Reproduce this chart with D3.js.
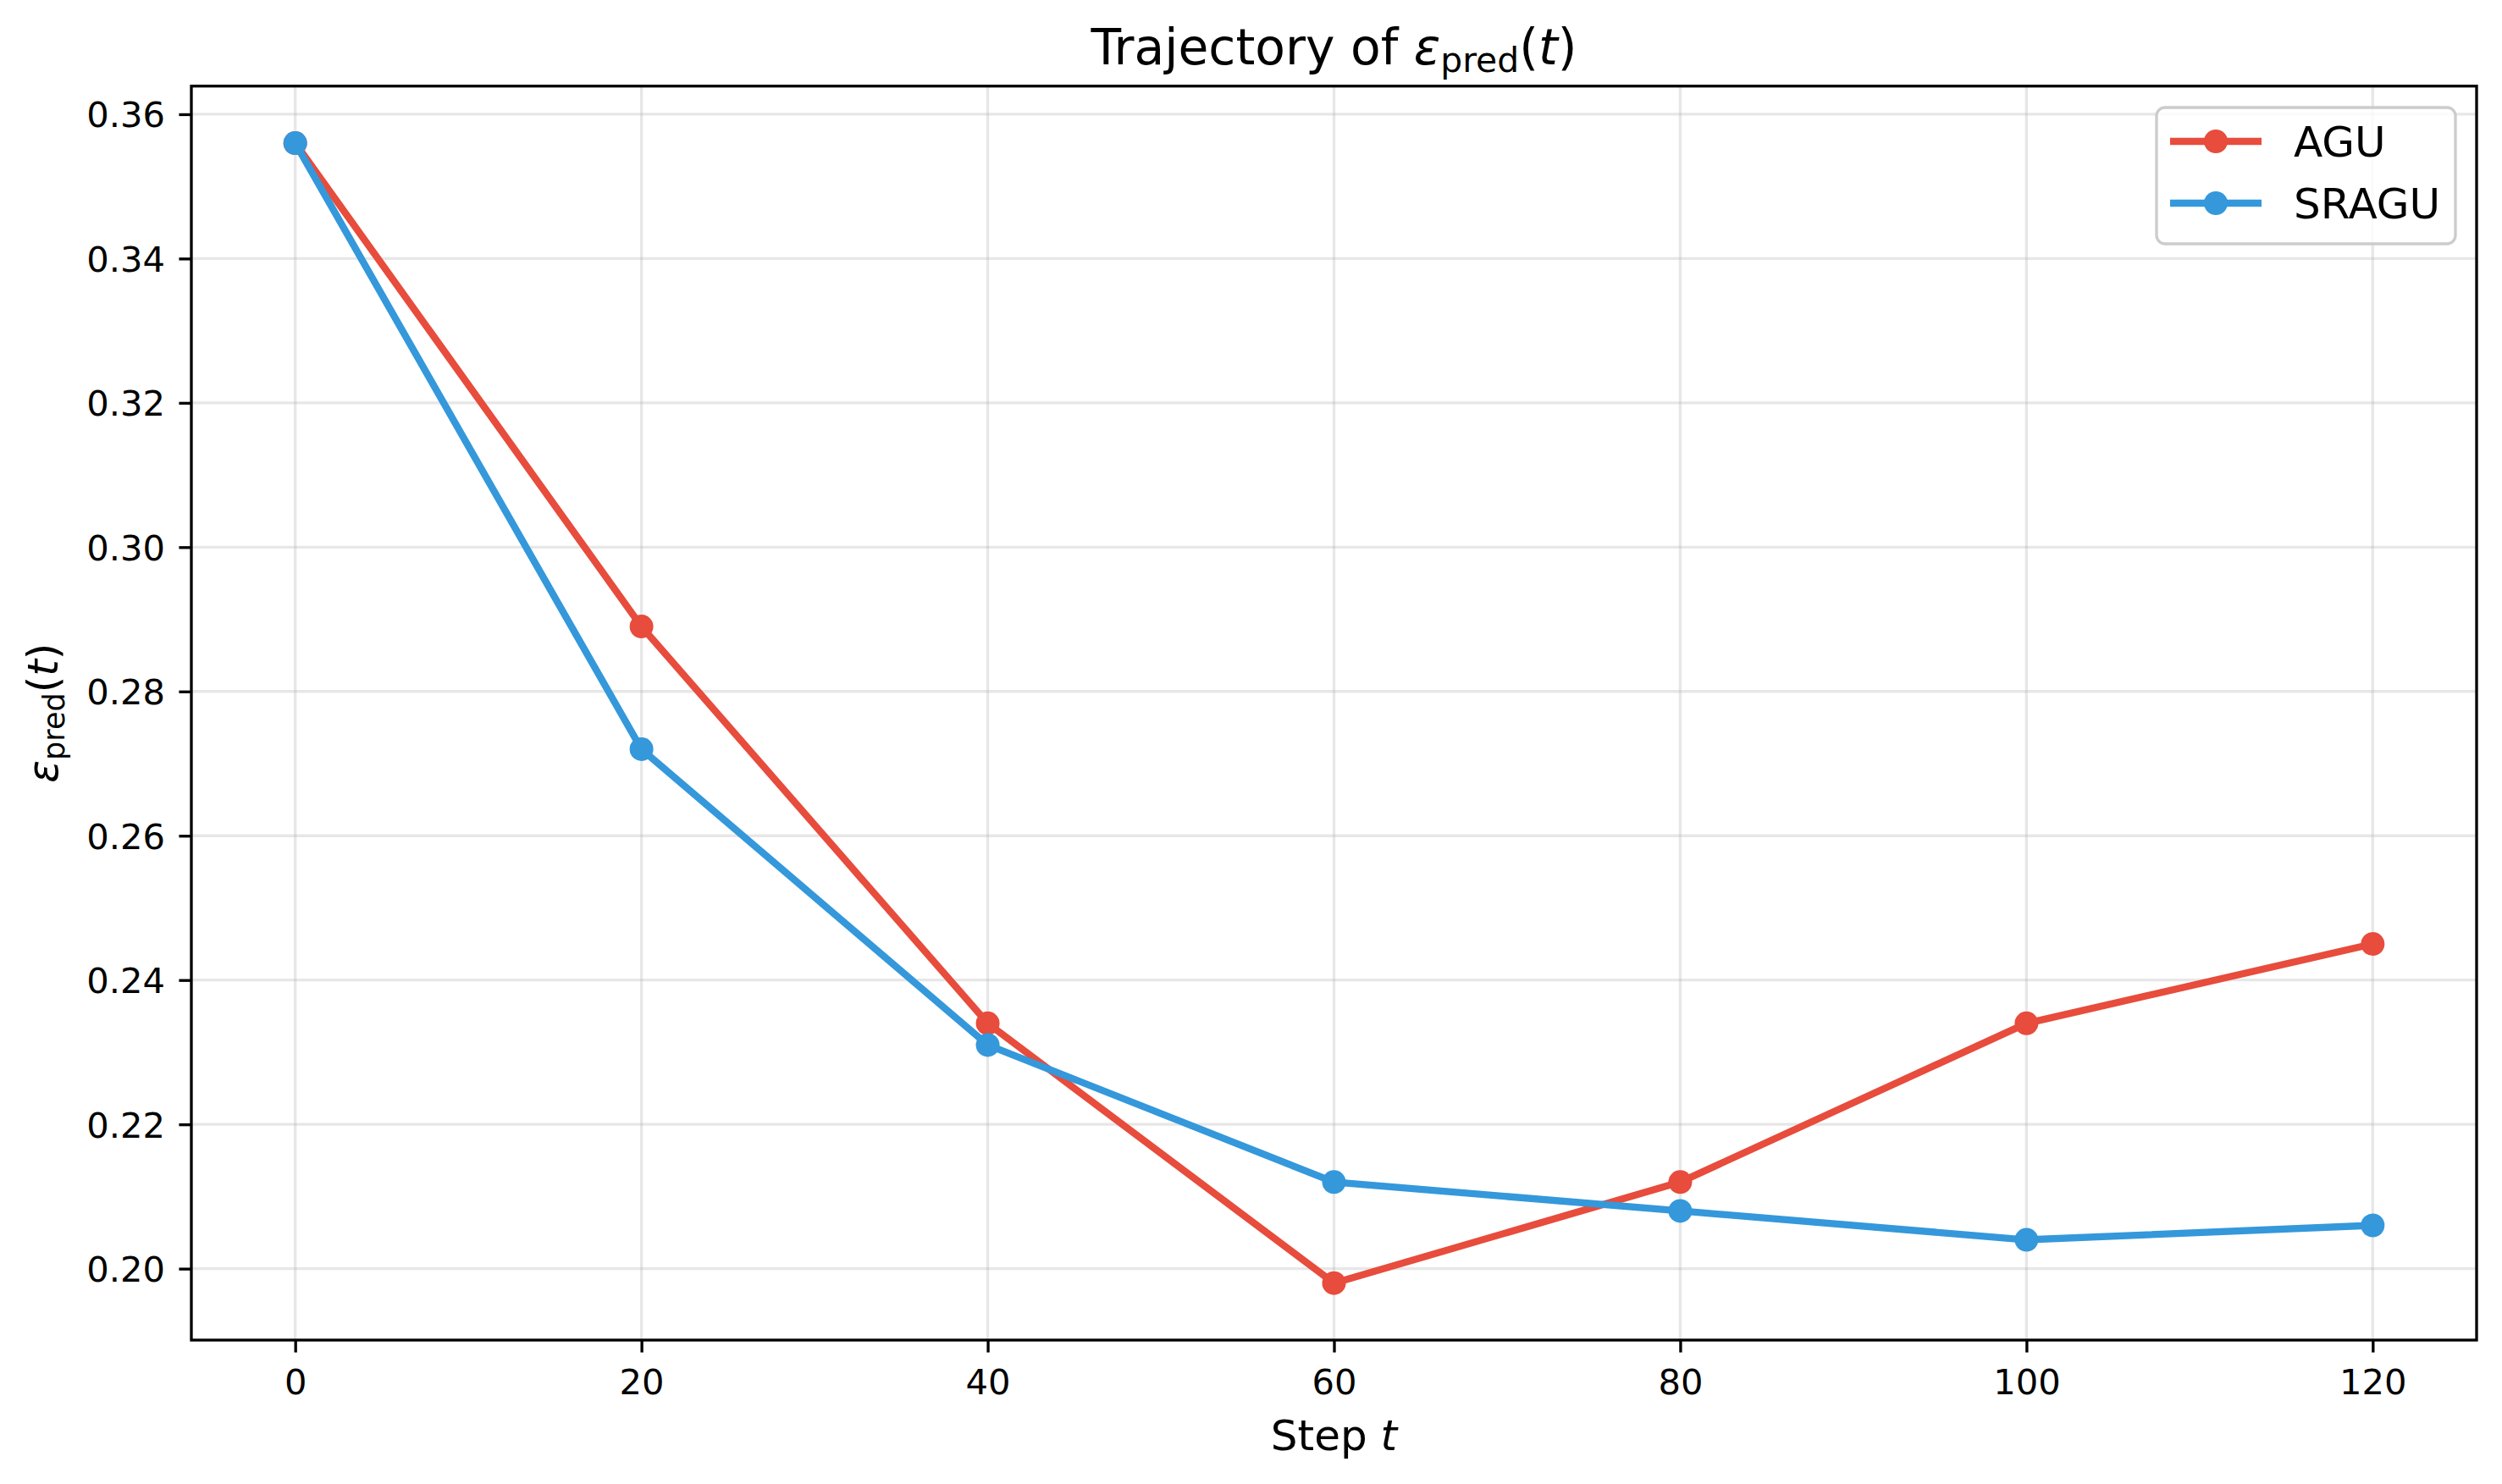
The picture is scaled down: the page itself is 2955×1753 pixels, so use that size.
<!DOCTYPE html>
<html>
<head>
<meta charset="utf-8">
<script src="https://cdn.jsdelivr.net/npm/d3@7"></script>
<style>
html, body { margin: 0; padding: 0; background: #ffffff; }
svg { display: block; font-family: "DejaVu Sans", sans-serif; }
</style>
</head>
<body>
<svg id="chart" width="2955" height="1753"></svg>
<script>
// ---- data ----
const steps = [0, 20, 40, 60, 80, 100, 120];
const aguValues = [0.356, 0.289, 0.234, 0.198, 0.212, 0.234, 0.245];
const sraguValues = [0.356, 0.272, 0.231, 0.212, 0.208, 0.204, 0.206];
const seriesNames = ["AGU", "SRAGU"];
const seriesColors = ["#e74c3c", "#3498db"];
const xTicks = [0, 20, 40, 60, 80, 100, 120];
const yTicks = [0.20, 0.22, 0.24, 0.26, 0.28, 0.30, 0.32, 0.34, 0.36];

const series = [
  { name: seriesNames[0], color: seriesColors[0], values: aguValues },
  { name: seriesNames[1], color: seriesColors[1], values: sraguValues }
];

// ---- layout ----
const W = 2955, H = 1753;
const L = 226, R = 2925, T = 101.7, B = 1583;
const PT = 300 / 72;
const tickFont = 10 * PT;    // 41.67
const labelFont = 12 * PT;   // 50
const titleFont = 14 * PT;   // 58.3
const tickLen = 3.5 * PT;

const svg = d3.select("#chart");

// domains with 5% margins like matplotlib
const xMin = d3.min(steps), xMax = d3.max(steps);
const xPad = (xMax - xMin) * 0.05;
const allY = aguValues.concat(sraguValues);
const yMin = d3.min(allY), yMax = d3.max(allY);
const yPad = (yMax - yMin) * 0.05;

const x = d3.scaleLinear().domain([xMin - xPad, xMax + xPad]).range([L, R]);
const y = d3.scaleLinear().domain([yMin - yPad, yMax + yPad]).range([B, T]);

// ---- grid ----
const grid = svg.append("g").attr("stroke", "#b0b0b0").attr("stroke-opacity", 0.3).attr("stroke-width", 0.8 * PT);
grid.selectAll("line.gx").data(xTicks).join("line")
  .attr("x1", d => x(d)).attr("x2", d => x(d)).attr("y1", T).attr("y2", B);
grid.selectAll("line.gy").data(yTicks).join("line")
  .attr("x1", L).attr("x2", R).attr("y1", d => y(d)).attr("y2", d => y(d));

// ---- axes ----
const xAxis = d3.axisBottom(x).tickValues(xTicks).tickFormat(d3.format("d")).tickSize(tickLen).tickPadding(0);
const gx = svg.append("g").attr("transform", `translate(0,${B})`).call(xAxis);
gx.select(".domain").remove();
gx.selectAll(".tick line").attr("stroke", "#000").attr("stroke-width", 0.8 * PT);
gx.selectAll(".tick text").attr("font-size", tickFont).attr("font-family", "DejaVu Sans")
  .attr("fill", "#000").attr("y", 64).attr("dy", null);

const yAxis = d3.axisLeft(y).tickValues(yTicks).tickFormat(d3.format(".2f")).tickSize(tickLen).tickPadding(16.4);
const gy = svg.append("g").attr("transform", `translate(${L},0)`).call(yAxis);
gy.select(".domain").remove();
gy.selectAll(".tick line").attr("stroke", "#000").attr("stroke-width", 0.8 * PT);
gy.selectAll(".tick text").attr("font-size", tickFont).attr("font-family", "DejaVu Sans")
  .attr("fill", "#000").attr("dy", "0.36em");

// ---- series ----
const line = d3.line().x((d, i) => x(steps[i])).y(d => y(d));
series.forEach(s => {
  const g = svg.append("g");
  g.append("path").datum(s.values).attr("d", line)
    .attr("fill", "none").attr("stroke", s.color).attr("stroke-width", 2 * PT)
    .attr("stroke-linejoin", "round").attr("stroke-linecap", "square");
  g.selectAll("circle").data(s.values).join("circle")
    .attr("cx", (d, i) => x(steps[i])).attr("cy", d => y(d)).attr("r", 14)
    .attr("fill", s.color);
});

// ---- frame ----
svg.append("rect").attr("x", L).attr("y", T).attr("width", R - L).attr("height", B - T)
  .attr("fill", "none").attr("stroke", "#000").attr("stroke-width", 0.8 * PT);

// ---- math text helper ----
function mathLabel(sel, prefix, size) {
  const t = sel.append("text").attr("font-size", size).attr("fill", "#000").attr("font-family", "DejaVu Sans");
  if (prefix) t.append("tspan").text(prefix);
  t.append("tspan").attr("font-style", "italic").text("ε");
  t.append("tspan").attr("font-size", size * 0.7).attr("dy", size * 0.16).text("pred");
  t.append("tspan").attr("dy", -size * 0.16).text("(");
  t.append("tspan").attr("font-style", "italic").text("t");
  t.append("tspan").text(")");
  return t;
}

// title
mathLabel(svg, "Trajectory of ", titleFont)
  .attr("x", (L + R) / 2).attr("y", 76).attr("text-anchor", "middle");

// x label
const xl = svg.append("text").attr("x", (L + R) / 2).attr("y", 1713).attr("text-anchor", "middle")
  .attr("font-size", labelFont).attr("fill", "#000");
xl.append("tspan").text("Step ");
xl.append("tspan").attr("font-style", "italic").text("t");

// y label
const yg = svg.append("g").attr("transform", `translate(68,${(T + B) / 2}) rotate(-90)`);
mathLabel(yg, "", labelFont).attr("x", 0).attr("y", 0).attr("text-anchor", "middle");

// ---- legend ----
const leg = svg.append("g");
leg.append("rect").attr("x", 2547).attr("y", 127).attr("width", 353).attr("height", 161).attr("rx", 10)
  .attr("fill", "#fff").attr("fill-opacity", 0.8).attr("stroke", "#cccccc").attr("stroke-width", 1 * PT * 0.8);
series.forEach((s, i) => {
  const cy = 167 + i * 73;
  leg.append("line").attr("x1", 2563).attr("x2", 2671).attr("y1", cy).attr("y2", cy)
    .attr("stroke", s.color).attr("stroke-width", 2 * PT);
  leg.append("circle").attr("cx", 2617).attr("cy", cy).attr("r", 14).attr("fill", s.color);
  leg.append("text").attr("x", 2709).attr("y", cy).attr("dy", "0.36em")
    .attr("font-size", labelFont).attr("fill", "#000").text(s.name);
});
</script>
</body>
</html>
